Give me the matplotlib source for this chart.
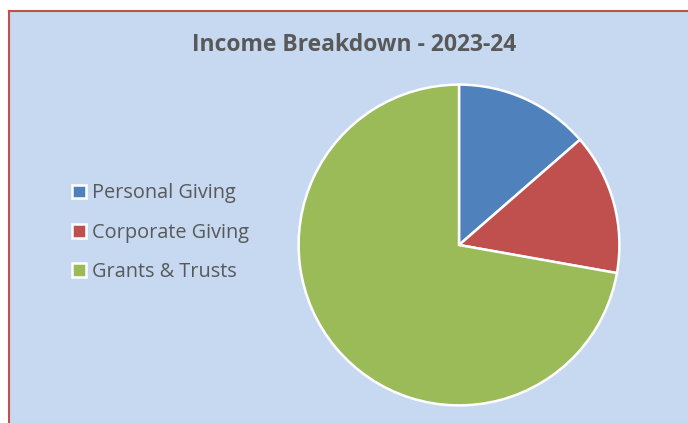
import matplotlib.pyplot as plt
from matplotlib.patches import Rectangle

# Income data (share of total, %)
categories = ['Personal Giving', 'Corporate Giving', 'Grants & Trusts']
shares = [13.6, 14.2, 72.2]
colors = ['#4F81BD', '#C0504D', '#9BBB59']
title = 'Income Breakdown - 2023-24'

plt.rcParams['font.family'] = ['Open Sans', 'DejaVu Sans']

W, H = 688, 423
fig = plt.figure(figsize=(W / 100, H / 100), dpi=100)
fig.patch.set_facecolor('white')

# chart area background with red border on top/left
fig.patches.append(Rectangle((8 / W, 0), 1, 1 - 11 / H, transform=fig.transFigure,
                             facecolor='#C6D9F1', edgecolor='none', zorder=-5))
fig.lines.append(plt.Line2D([8.5 / W, 8.5 / W], [0, 1 - 11 / H], transform=fig.transFigure,
                            color='#C0504D', lw=1.5, zorder=-4))
fig.lines.append(plt.Line2D([8.5 / W, 1], [1 - 11.5 / H, 1 - 11.5 / H], transform=fig.transFigure,
                            color='#C0504D', lw=1.5, zorder=-4))

# pie axes, centre (459, 245), radius 162 px
cx, cy, r = 459, 245, 162
ax = fig.add_axes([(cx - r) / W, 1 - (cy + r) / H, 2 * r / W, 2 * r / H])
ax.set_zorder(2)
wedges, _ = ax.pie(shares, colors=colors, startangle=90, counterclock=False, radius=1,
                   wedgeprops=dict(edgecolor='white', linewidth=1.8))
ax.set_xlim(-1.01, 1.01)
ax.set_ylim(-1.01, 1.01)
ax.set_aspect('equal')
ax.axis('off')

fig.text(354 / W, 1 - 45 / H, title, ha='center', va='center', fontsize=16.5,
         fontweight='bold', color='#595959')

leg = fig.legend(wedges, categories, loc='upper left', bbox_to_anchor=(64 / W, 1 - 175.5 / H),
                 frameon=False, fontsize=14.3, handlelength=0.7, handleheight=0.7,
                 handletextpad=0.3, labelspacing=0.97, borderaxespad=0)
for t in leg.get_texts():
    t.set_color('#595959')

fig.savefig('out.png', dpi=100)
